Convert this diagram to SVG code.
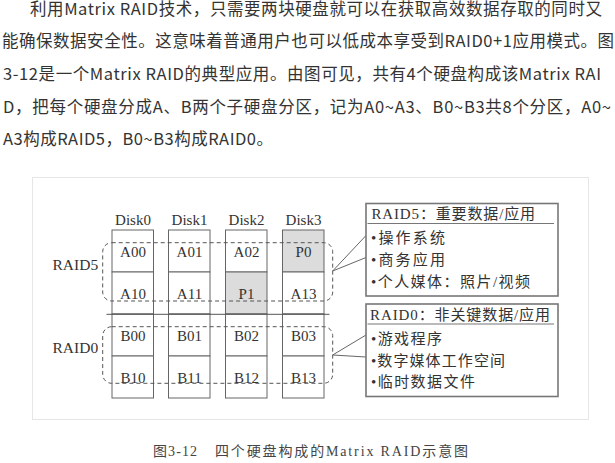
<svg xmlns="http://www.w3.org/2000/svg" width="615" height="463" viewBox="0 0 615 463">
<style>
.para{font-family:"Noto Sans CJK SC","Open Sans",sans-serif;font-size:16.5px;fill:#333}
.lbl{font-family:"Liberation Serif","Noto Sans CJK SC",serif;font-size:15px;fill:#333;text-anchor:middle}
.side{font-family:"Liberation Serif","Noto Sans CJK SC",serif;font-size:15.5px;fill:#333}
.box{font-family:"Liberation Serif","Noto Sans CJK SC",serif;font-size:15px;fill:#333}
.cell{fill:#fff;stroke:#666;stroke-width:1}
.par{fill:#dcdcdc;stroke:#666;stroke-width:1}
.dash{fill:none;stroke:#555;stroke-width:1;stroke-dasharray:4 3}
.cbox{fill:#fff;stroke:#777;stroke-width:1.6}
.conn{fill:none;stroke:#666;stroke-width:1}
.cap{font-family:"Liberation Serif","Noto Sans CJK SC",serif;font-size:14px;fill:#444}
</style>
<rect width="615" height="463" fill="#fff"/>
<g id="paragraph">
<text class="para" x="30" y="15" textLength="572" lengthAdjust="spacing">利用Matrix RAID技术，只需要两块硬盘就可以在获取高效数据存取的同时又</text>
<text class="para" x="2" y="47" textLength="612" lengthAdjust="spacing">能确保数据安全性。这意味着普通用户也可以低成本享受到RAID0+1应用模式。图</text>
<text class="para" x="3" y="79.5" textLength="598" lengthAdjust="spacing">3-12是一个Matrix RAID的典型应用。由图可见，共有4个硬盘构成该Matrix RAI</text>
<text class="para" x="3" y="112.5" textLength="608" lengthAdjust="spacing">D，把每个硬盘分成A、B两个子硬盘分区，记为A0~A3、B0~B3共8个分区，A0~</text>
<text class="para" x="3" y="145" textLength="270" lengthAdjust="spacing">A3构成RAID5，B0~B3构成RAID0。</text>
</g>
<g id="panel">
<rect x="32.5" y="177.5" width="556" height="242" fill="#fff" stroke="#e6e6e6" stroke-width="1"/>
</g>
<g id="disk0">
<text class="lbl" x="133" y="225">Disk0</text>
<rect class="cell" x="112" y="230" width="41.5" height="42"/>
<rect class="cell" x="112" y="272" width="41.5" height="42"/>
<rect class="cell" x="112" y="314" width="41.5" height="42"/>
<rect class="cell" x="112" y="356" width="41.5" height="42"/>
<text class="lbl" x="133" y="256.5">A00</text>
<text class="lbl" x="133" y="298.5">A10</text>
<text class="lbl" x="133" y="340.5">B00</text>
<text class="lbl" x="133" y="382.5">B10</text>
</g>
<g id="disk1">
<text class="lbl" x="189.5" y="225">Disk1</text>
<rect class="cell" x="168.5" y="230" width="41.5" height="42"/>
<rect class="cell" x="168.5" y="272" width="41.5" height="42"/>
<rect class="cell" x="168.5" y="314" width="41.5" height="42"/>
<rect class="cell" x="168.5" y="356" width="41.5" height="42"/>
<text class="lbl" x="189.5" y="256.5">A01</text>
<text class="lbl" x="189.5" y="298.5">A11</text>
<text class="lbl" x="189.5" y="340.5">B01</text>
<text class="lbl" x="189.5" y="382.5">B11</text>
</g>
<g id="disk2">
<text class="lbl" x="246.5" y="225">Disk2</text>
<rect class="cell" x="225.5" y="230" width="41.5" height="42"/>
<rect class="par" x="225.5" y="272" width="41.5" height="42"/>
<rect class="cell" x="225.5" y="314" width="41.5" height="42"/>
<rect class="cell" x="225.5" y="356" width="41.5" height="42"/>
<text class="lbl" x="246.5" y="256.5">A02</text>
<text class="lbl" x="246.5" y="298.5">P1</text>
<text class="lbl" x="246.5" y="340.5">B02</text>
<text class="lbl" x="246.5" y="382.5">B12</text>
</g>
<g id="disk3">
<text class="lbl" x="303.5" y="225">Disk3</text>
<rect class="par" x="282.5" y="230" width="41.5" height="42"/>
<rect class="cell" x="282.5" y="272" width="41.5" height="42"/>
<rect class="cell" x="282.5" y="314" width="41.5" height="42"/>
<rect class="cell" x="282.5" y="356" width="41.5" height="42"/>
<text class="lbl" x="303.5" y="256.5">P0</text>
<text class="lbl" x="303.5" y="298.5">A13</text>
<text class="lbl" x="303.5" y="340.5">B03</text>
<text class="lbl" x="303.5" y="382.5">B13</text>
</g>
<g id="divider">
<line x1="106.5" y1="314.3" x2="329.5" y2="314.3" stroke="#555" stroke-width="1"/>
</g>
<g id="raid5">
<rect class="dash" x="102.7" y="242.7" width="230" height="58.3" rx="9"/>
<text class="side" x="52.5" y="270">RAID5</text>
</g>
<g id="raid0">
<rect class="dash" x="102.7" y="326.7" width="230" height="56.6" rx="9"/>
<text class="side" x="52.5" y="353">RAID0</text>
</g>
<g id="connectors">
<polyline class="conn" points="366,235.5 332.7,271 366,257.5"/>
<polyline class="conn" points="366,335 332.7,355 366,357"/>
</g>
<g id="box-raid5">
<rect class="cbox" x="366" y="203.5" width="192" height="92.5"/>
<line x1="367.5" y1="223.5" x2="554" y2="223.5" stroke="#777" stroke-width="1.2"/>
<text class="box" x="371.5" y="218.5" textLength="163.5" lengthAdjust="spacing">RAID5：重要数据/应用</text>
<text class="box" x="371" y="243" textLength="74" lengthAdjust="spacing">•操作系统</text>
<text class="box" x="371" y="265" textLength="74" lengthAdjust="spacing">•商务应用</text>
<text class="box" x="371" y="287" textLength="159" lengthAdjust="spacing">•个人媒体：照片/视频</text>
</g>
<g id="box-raid0">
<rect class="cbox" x="366" y="304" width="192" height="92.5"/>
<line x1="367.5" y1="324" x2="554" y2="324" stroke="#777" stroke-width="1.2"/>
<text class="box" x="370" y="319.5" textLength="180" lengthAdjust="spacing">RAID0：非关键数据/应用</text>
<text class="box" x="371" y="343.5" textLength="71" lengthAdjust="spacing">•游戏程序</text>
<text class="box" x="371" y="365.5" textLength="134" lengthAdjust="spacing">•数字媒体工作空间</text>
<text class="box" x="371" y="387" textLength="104" lengthAdjust="spacing">•临时数据文件</text>
</g>
<g id="caption">
<text class="cap" x="153" y="456" textLength="44" lengthAdjust="spacing">图3-12</text>
<text class="cap" x="215" y="456" textLength="253" lengthAdjust="spacing">四个硬盘构成的Matrix RAID示意图</text>
</g>
</svg>
